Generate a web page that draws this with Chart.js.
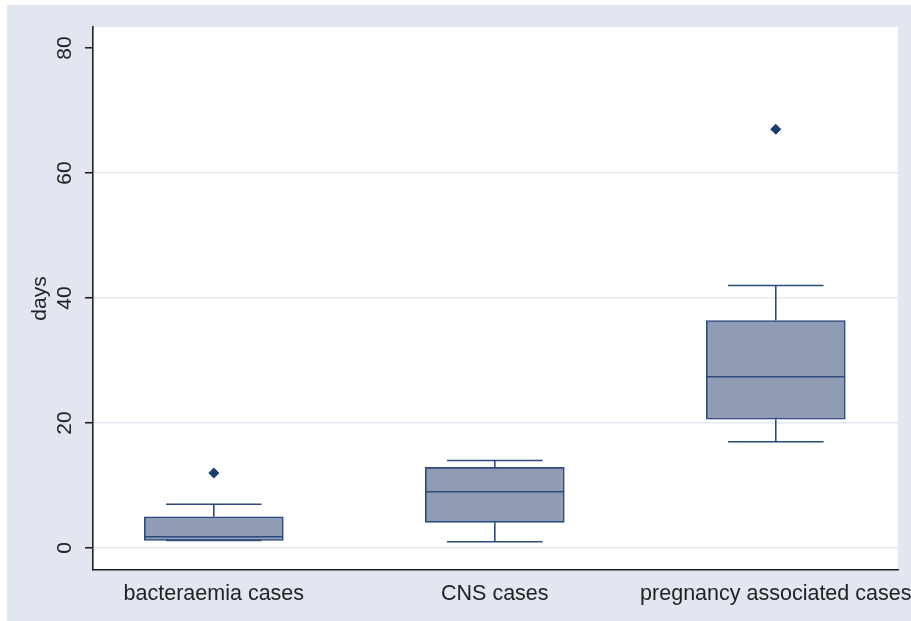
<!DOCTYPE html>
<html>
<head>
<meta charset="utf-8">
<script src="https://cdn.jsdelivr.net/npm/chart.js@4.4.0/dist/chart.umd.min.js"></script>
<style>
  html, body { margin: 0; padding: 0; background: #ffffff; }
  #wrap { position: absolute; left: 7px; top: 5px; }
</style>
</head>
<body>
<div id="wrap"><canvas id="boxChart" width="904" height="616"></canvas></div>
<script>
// Data (days)
const categories = ["bacteraemia cases", "CNS cases", "pregnancy associated cases"];
const whiskerLow = [1.2, 1, 17];
const q1 = [1.2, 4.1, 20.6];
const median = [1.8, 9, 27.4];
const q3 = [5, 12.9, 36.4];
const whiskerHigh = [7, 14, 42];
const outlierCat = [0, 2];
const outlierVal = [12, 67];
const yTicks = [0, 20, 40, 60, 80];

const navy = "#2c4a7e";
const font = "'Liberation Sans', Arial, sans-serif";

// outer background + white plot region
const bgPlugin = {
    id: "bg",
    beforeDraw(chart) {
        const c = chart.ctx, a = chart.chartArea;
        c.save();
        c.fillStyle = "#e1e6f0";
        c.fillRect(0, 0, chart.width, chart.height);
        c.fillStyle = "#ffffff";
        c.fillRect(a.left, a.top, a.right - a.left, a.bottom - a.top);
        c.restore();
    }
};

// whiskers, caps, medians, rotated y labels
const boxPlugin = {
    id: "boxparts",
    afterDatasetsDraw(chart) {
        const c = chart.ctx, x = chart.scales.x, y = chart.scales.y;
        const capHalf = 0.17, boxHalf = 0.245;
        c.save();
        c.strokeStyle = navy;
        c.lineWidth = 1.6;
        categories.forEach((cat, i) => {
            const cx = x.getPixelForValue(i);
            const seg = (x1, y1, x2, y2) => {
                c.beginPath(); c.moveTo(x1, y1); c.lineTo(x2, y2); c.stroke();
            };
            // upper
            seg(cx, y.getPixelForValue(q3[i]), cx, y.getPixelForValue(whiskerHigh[i]));
            seg(x.getPixelForValue(i - capHalf), y.getPixelForValue(whiskerHigh[i]),
                x.getPixelForValue(i + capHalf), y.getPixelForValue(whiskerHigh[i]));
            // lower
            seg(cx, y.getPixelForValue(q1[i]), cx, y.getPixelForValue(whiskerLow[i]));
            seg(x.getPixelForValue(i - capHalf), y.getPixelForValue(whiskerLow[i]),
                x.getPixelForValue(i + capHalf), y.getPixelForValue(whiskerLow[i]));
            // median
            seg(x.getPixelForValue(i - boxHalf), y.getPixelForValue(median[i]),
                x.getPixelForValue(i + boxHalf), y.getPixelForValue(median[i]));
        });
        c.restore();
    },
    afterDraw(chart) {
        const c = chart.ctx, y = chart.scales.y, a = chart.chartArea;
        c.save();
        c.fillStyle = "#222222";
        c.font = "21px " + font;
        c.textAlign = "center";
        c.textBaseline = "middle";
        yTicks.forEach(v => {
            c.save();
            c.translate(58, y.getPixelForValue(v));
            c.rotate(-Math.PI / 2);
            c.fillText(String(v), 0, 0);
            c.restore();
        });
        c.save();
        c.translate(33, (a.top + a.bottom) / 2);
        c.rotate(-Math.PI / 2);
        c.fillText("days", 0, 0);
        c.restore();
        c.restore();
    }
};

new Chart(document.getElementById("boxChart"), {
    type: "bar",
    data: {
        datasets: [{
            label: "box",
            data: categories.map((c, i) => ({ x: i, y: [q1[i], q3[i]] })),
            backgroundColor: "#8f9cb4",
            borderColor: navy,
            borderWidth: 1.6,
            borderSkipped: false,
            barThickness: 139
        }, {
            type: "scatter",
            label: "outliers",
            data: outlierCat.map((c, i) => ({ x: c, y: outlierVal[i] })),
            pointStyle: "rectRot",
            radius: 5,
            backgroundColor: "#1d3d70",
            borderColor: "#1d3d70",
            borderWidth: 1
        }]
    },
    options: {
        responsive: false,
        animation: false,
        devicePixelRatio: 1,
        layout: { padding: { left: 0, right: 13, top: 22, bottom: 0 } },
        plugins: { legend: { display: false }, tooltip: { enabled: false } },
        scales: {
            x: {
                type: "linear",
                offset: false,
                min: -0.43,
                max: 2.435,
                afterBuildTicks: s => { s.ticks = categories.map((c, i) => ({ value: i })); },
                afterFit: s => { s.height = 51; s.paddingLeft = 0; s.paddingRight = 0; },
                grid: { display: false, drawTicks: false },
                border: { display: true, color: "#222222", width: 1.6 },
                ticks: {
                    autoSkip: false,
                    maxRotation: 0,
                    padding: 11,
                    color: "#222222",
                    font: { family: font, size: 21.5 },
                    callback: v => categories[v]
                }
            },
            y: {
                min: -3.52,
                max: 83.36,
                afterBuildTicks: s => { s.ticks = yTicks.map(v => ({ value: v })); },
                afterFit: s => { s.width = 86; },
                grid: {
                    color: ctx => (ctx.tick && ctx.tick.value === 80) ? "rgba(0,0,0,0)" : "#e2e8f2",
                    lineWidth: 1.5,
                    tickColor: "#222222",
                    tickLength: 8,
                    tickWidth: 1.6
                },
                border: { display: true, color: "#222222", width: 1.6 },
                ticks: { display: false }
            }
        }
    },
    plugins: [bgPlugin, boxPlugin]
});
</script>
</body>
</html>
